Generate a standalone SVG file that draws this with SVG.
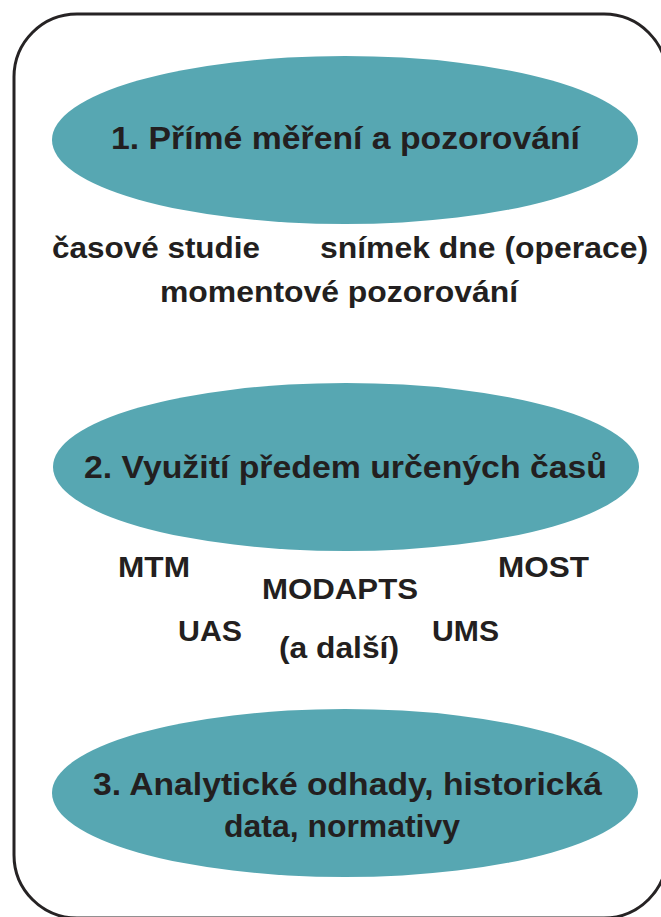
<svg xmlns="http://www.w3.org/2000/svg" width="661" height="917" viewBox="0 0 661 917">
<style>
.frame{fill:#ffffff;stroke:#262324;stroke-width:3}
.oval{fill:#57a7b2}
text{font-family:"Liberation Sans",Arial,sans-serif;font-weight:bold;fill:#231f20}
.h{font-size:32px;text-anchor:start}
.t{font-size:30px;text-anchor:start}
</style>
<rect width="661" height="917" fill="#ffffff"/>
<rect class="frame" x="14" y="14" width="653" height="904" rx="63" ry="63"/>
<g id="node1">
<ellipse class="oval" cx="345" cy="140" rx="293" ry="84"/>
<text class="h" x="111" y="149" textLength="469" lengthAdjust="spacingAndGlyphs">1. Přímé měření a pozorování</text>
</g>
<g id="items1">
<text class="t" x="52" y="258" textLength="208" lengthAdjust="spacingAndGlyphs">časové studie</text>
<text class="t" x="320" y="258" textLength="328" lengthAdjust="spacingAndGlyphs">snímek dne (operace)</text>
<text class="t" x="160" y="302" textLength="358" lengthAdjust="spacingAndGlyphs">momentové pozorování</text>
</g>
<g id="node2">
<ellipse class="oval" cx="346" cy="467" rx="293" ry="84"/>
<text class="h" x="84" y="478" textLength="523" lengthAdjust="spacingAndGlyphs">2. Využití předem určených časů</text>
</g>
<g id="items2">
<text class="t" x="118" y="577" textLength="72" lengthAdjust="spacingAndGlyphs">MTM</text>
<text class="t" x="498" y="577" textLength="91" lengthAdjust="spacingAndGlyphs">MOST</text>
<text class="t" x="262" y="599" textLength="156" lengthAdjust="spacingAndGlyphs">MODAPTS</text>
<text class="t" x="178" y="641" textLength="64" lengthAdjust="spacingAndGlyphs">UAS</text>
<text class="t" x="432" y="641" textLength="67" lengthAdjust="spacingAndGlyphs">UMS</text>
<text class="t" x="279" y="658" textLength="120" lengthAdjust="spacingAndGlyphs">(a další)</text>
</g>
<g id="node3">
<ellipse class="oval" cx="345" cy="793" rx="293" ry="84"/>
<text class="h" x="93" y="795" textLength="509" lengthAdjust="spacingAndGlyphs">3. Analytické odhady, historická</text>
<text class="h" x="224" y="837" textLength="236" lengthAdjust="spacingAndGlyphs">data, normativy</text>
</g>
</svg>
